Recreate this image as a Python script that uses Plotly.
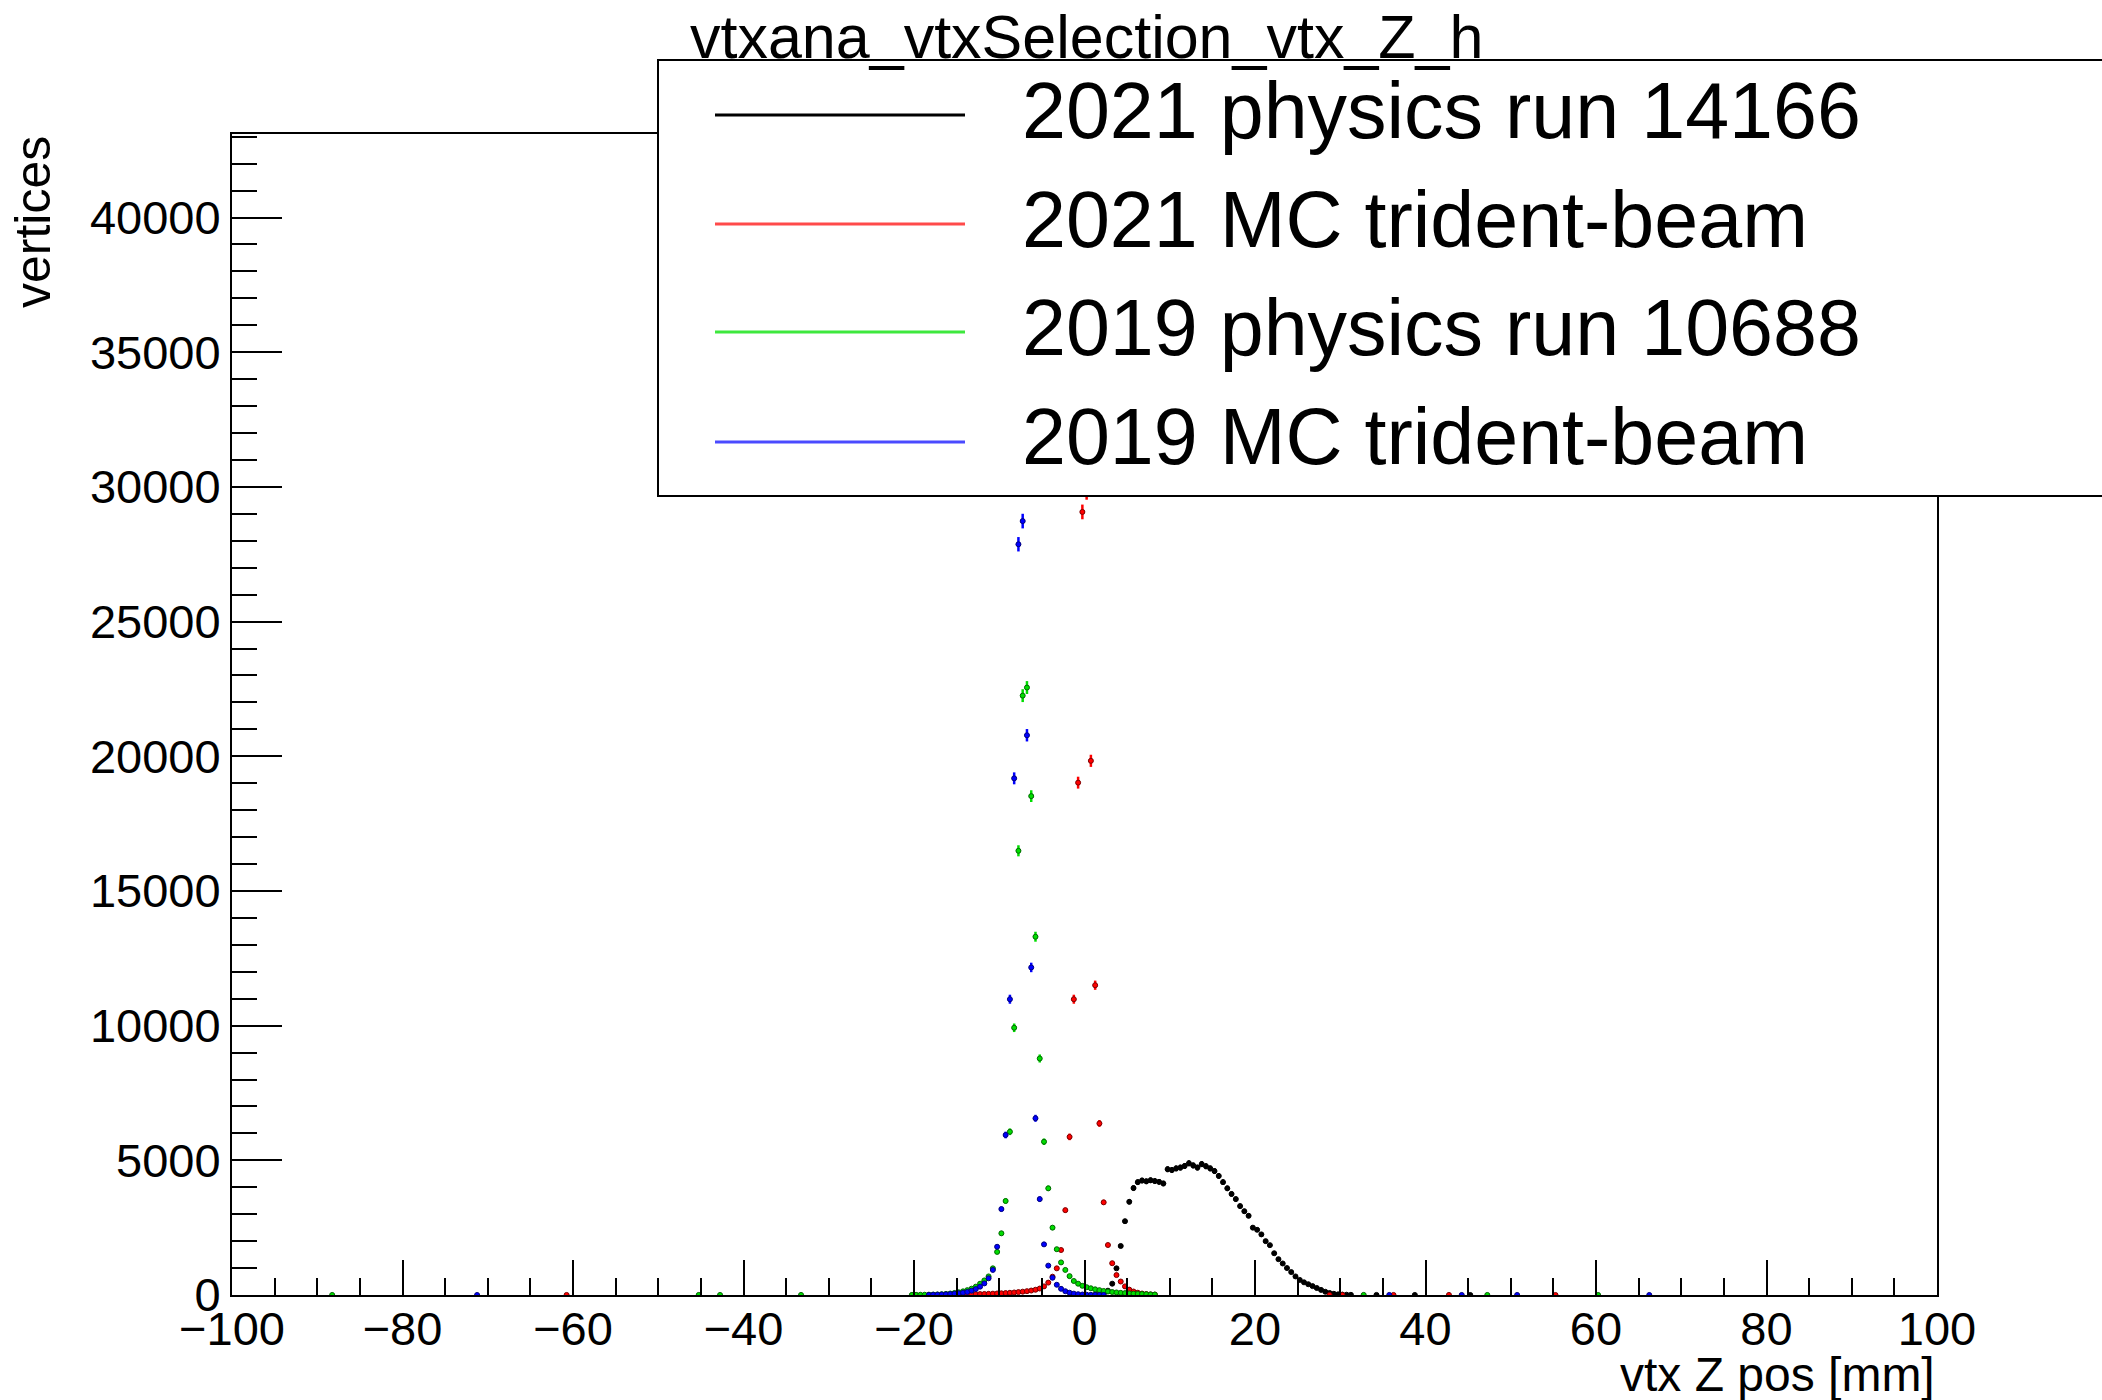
import numpy as np
import plotly.graph_objects as go

# ---- histogram content: vtx Z position, 0.5 mm bins, counts per bin ----
BIN_WIDTH = 0.5

# 2021 physics run 14166
black_first_center = 1.25
black_counts = [10, 25, 60, 160, 420, 990, 1820, 2740, 3460, 3970,
                4190, 4250, 4220, 4260, 4230, 4200, 4140, 4670, 4640, 4700,
                4730, 4790, 4890, 4810, 4730, 4860, 4780, 4700, 4600, 4420,
                4190, 3960, 3750, 3560, 3300, 3110, 2940, 2500, 2420, 2250,
                2000, 1850, 1550, 1330, 1170, 1000, 850, 690, 560, 470,
                400, 330, 260, 190, 120, 75, 45, 25, 15, 10, 6]
black_sparse_z = [34.25, 38.75, 45.25]
black_sparse_n = [3, 2, 1]

# 2021 MC trident-beam
red_first_center = -16.25
red_counts = [12, 14, 16, 18, 21, 24, 27, 30, 34, 38,
              43, 49, 56, 63, 72, 82, 94, 108, 124, 142,
              165, 195, 240, 320, 460, 680, 990, 1670, 3150, 5870,
              10980, 19020, 29070, 29800, 19830, 11500, 6370, 3440, 1855, 1180,
              740, 500, 320, 200, 130, 85, 55, 35, 22, 14]
red_sparse_z = [-60.75, 28.75, 30.25, 36.25, 42.75, 55.25]
red_sparse_n = [2, 4, 3, 2, 3, 1]

# 2019 physics run 10688
green_first_center = -20.25
green_counts = [4, 6, 8, 10, 13, 17, 22, 30, 40, 55,
                75, 100, 135, 180, 235, 310, 420, 540, 690, 990,
                1600, 2290, 3490, 6060, 9920, 16490, 22250, 22550, 18520, 13300,
                8780, 5690, 3960, 2500, 1700, 1210, 930, 700, 520, 420,
                340, 290, 250, 210, 180, 150, 130, 110, 95, 80,
                70, 60, 50, 42, 35, 28, 22, 17]
green_sparse_z = [-88.25, -45.25, -42.75, -33.25, 32.75, 47.25, 60.25]
green_sparse_n = [2, 3, 2, 3, 4, 2, 1]

# 2019 MC trident-beam
blue_first_center = -18.25
blue_counts = [5, 8, 12, 18, 25, 35, 48, 65, 85, 115,
               160, 220, 310, 430, 620, 930, 1790, 3190, 5940, 10980,
               19180, 27870, 28730, 20780, 12160, 6560, 3560, 1880, 1090, 640,
               380, 230, 140, 85, 50, 30, 18, 11, 7, 4, 3, 2]
blue_sparse_z = [-71.25, 35.75, 44.25, 50.75, 66.25]
blue_sparse_n = [1, 3, 2, 2, 1]

series_names = ["2021 physics run 14166", "2021 MC trident-beam",
                "2019 physics run 10688", "2019 MC trident-beam"]
series_colors = ["#000000", "#ff0000", "#00dd00", "#0000ff"]
center_colors = ["#000000", "#7a0000", "#006600", "#00007a"]
legend_colors = ["#000000", "#ff4a4a", "#3ee83e", "#4a4aff"]

x_ticks = [-100, -80, -60, -40, -20, 0, 20, 40, 60, 80, 100]
y_ticks = [0, 5000, 10000, 15000, 20000, 25000, 30000, 35000, 40000]

TITLE = "vtxana_vtxSelection_vtx_Z_h"
X_TITLE = "vtx Z pos [mm]"
Y_TITLE = "vertices"

# ---- figure geometry (pixels) ----
W, H = 2102, 1400
L, R, T, B = 232, 165, 134, 105
PW, PH = W - L - R, H - T - B
FONT = "Liberation Sans, Arial, Helvetica, sans-serif"


def px(xp):
    return (xp - L) / PW


def py(yp):
    return (H - B - yp) / PH


def series(first, counts, sz, sn):
    z = first + BIN_WIDTH * np.arange(len(counts))
    z = np.concatenate([z, np.array(sz, dtype=float)])
    n = np.concatenate([np.array(counts, dtype=float), np.array(sn, dtype=float)])
    return z, n


data = [
    series(black_first_center, black_counts, black_sparse_z, black_sparse_n),
    series(red_first_center, red_counts, red_sparse_z, red_sparse_n),
    series(green_first_center, green_counts, green_sparse_z, green_sparse_n),
    series(blue_first_center, blue_counts, blue_sparse_z, blue_sparse_n),
]

fig = go.Figure()
for (z, n), name, col, ccol in zip(data, series_names, series_colors, center_colors):
    fig.add_trace(go.Scatter(
        x=z, y=n, mode="markers", name=name, showlegend=False,
        marker=dict(size=5, color=col, line=dict(width=1, color=ccol)),
        error_x=dict(type="constant", value=BIN_WIDTH / 2, color=col, thickness=2.5, width=0),
        error_y=dict(type="data", array=np.sqrt(n) * 1.6, color=col, thickness=2.5, width=0),
        cliponaxis=True,
    ))

axis_common = dict(
    showline=True, mirror=True, linecolor="black", linewidth=2,
    showgrid=False, zeroline=False, ticks="inside", tickcolor="black",
    tickwidth=2, tickfont=dict(family=FONT, size=47, color="black"),
    exponentformat="none", tickformat="d",
)

fig.update_xaxes(range=[-100, 100], tickvals=x_ticks, ticklen=35, ticklabelstandoff=-8,
                 minor=dict(dtick=5, ticklen=17, ticks="inside", tickcolor="black", tickwidth=2),
                 **axis_common)
fig.update_yaxes(range=[0, 43100], tickvals=y_ticks, ticklen=50,
                 minor=dict(dtick=1000, ticklen=25, ticks="inside", tickcolor="black", tickwidth=2),
                 **axis_common)

shapes = []
annotations = []

# legend box, drawn over the data
shapes.append(dict(type="rect", xref="paper", yref="paper",
                   x0=px(658), x1=px(2120), y0=py(496), y1=py(60),
                   fillcolor="white", line=dict(color="black", width=2), layer="above"))
row_y = [115, 224, 332, 442]
text_y = [110, 219, 327, 437]
for yy, ty, name, col in zip(row_y, text_y, series_names, legend_colors):
    shapes.append(dict(type="line", xref="paper", yref="paper",
                       x0=px(715), x1=px(965), y0=py(yy), y1=py(yy),
                       line=dict(color=col, width=3), layer="above"))
    annotations.append(dict(text=name, xref="paper", yref="paper",
                            x=px(1020), y=py(ty), xanchor="left", yanchor="middle",
                            showarrow=False, font=dict(family=FONT, size=79, color="black")))

annotations.append(dict(text=TITLE, xref="paper", yref="paper",
                        x=px(1086), y=py(37), xanchor="center", yanchor="middle",
                        showarrow=False, font=dict(family=FONT, size=61, color="black")))
annotations.append(dict(text=X_TITLE, xref="paper", yref="paper",
                        x=1.0, y=py(1374), xanchor="right", yanchor="middle",
                        showarrow=False, font=dict(family=FONT, size=48, color="black")))
annotations.append(dict(text=Y_TITLE, xref="paper", yref="paper", textangle=-90,
                        x=px(33), y=1.0, xanchor="center", yanchor="top",
                        showarrow=False, font=dict(family=FONT, size=50, color="black")))

fig.update_layout(
    width=W, height=H, margin=dict(l=L, r=R, t=T, b=B),
    paper_bgcolor="white", plot_bgcolor="white",
    shapes=shapes, annotations=annotations, showlegend=False,
)

fig.write_html("out.html")
